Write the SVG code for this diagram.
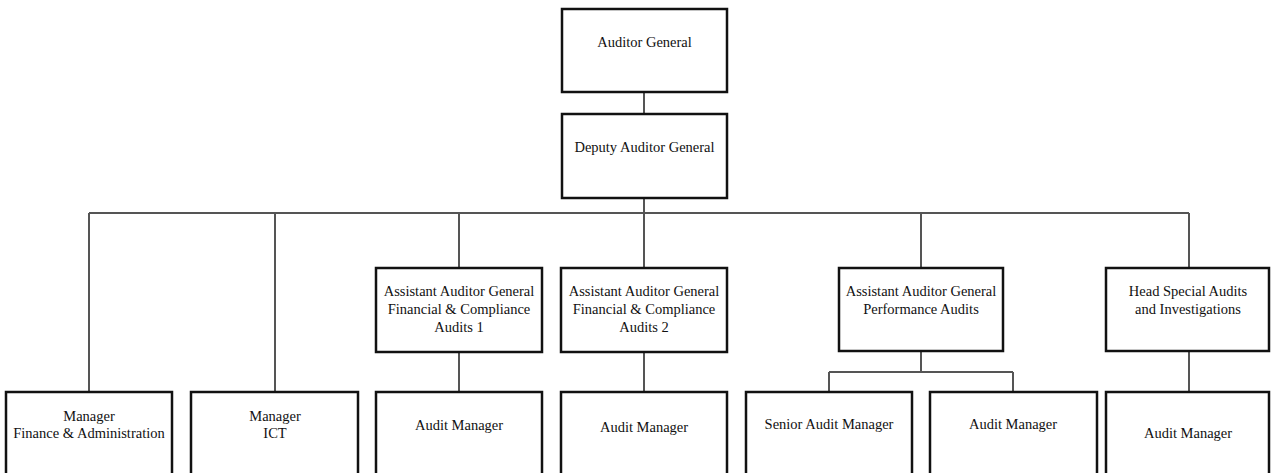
<svg xmlns="http://www.w3.org/2000/svg" width="1271" height="473" viewBox="0 0 1271 473">
<style>
.box{fill:#fff;stroke:#111;stroke-width:2.5}
.t{font-family:"Liberation Serif","Times New Roman",serif;font-size:14.5px;fill:#111;text-anchor:middle}
.c{fill:none;stroke:#555;stroke-width:2}
</style>
<rect width="1271" height="473" fill="#fff"/>
<g id="connectors">
<path class="c" d="M644 92V114M644 198V213M89 213H1189M89 213V392M275 213V392M459 213V268M644 213V268M921 213V268M1189 213V268"/>
<path class="c" d="M459 352V392M644 352V392M921 352V372M829 372H1013M829 372V392M1013 372V392M1189 352V392"/>
</g>
<g id="auditor-general"><rect class="box" x="562" y="9" width="165" height="83"/><text class="t" x="644.5" y="47">Auditor General</text></g>
<g id="deputy-auditor-general"><rect class="box" x="562" y="114" width="165" height="84"/><text class="t" x="644.5" y="152">Deputy Auditor General</text></g>
<g id="aag-fca1"><rect class="box" x="376" y="268" width="166" height="84"/><text class="t" x="459" y="296">Assistant Auditor General</text><text class="t" x="459" y="314">Financial &amp; Compliance</text><text class="t" x="459" y="332">Audits 1</text></g>
<g id="aag-fca2"><rect class="box" x="561" y="268" width="166" height="84"/><text class="t" x="644" y="296">Assistant Auditor General</text><text class="t" x="644" y="314">Financial &amp; Compliance</text><text class="t" x="644" y="332">Audits 2</text></g>
<g id="aag-pa"><rect class="box" x="839" y="268" width="164" height="83"/><text class="t" x="921" y="296">Assistant Auditor General</text><text class="t" x="921" y="314">Performance Audits</text></g>
<g id="head-special"><rect class="box" x="1106" y="268" width="163" height="83"/><text class="t" x="1188" y="296">Head Special Audits</text><text class="t" x="1188" y="314">and Investigations</text></g>
<g id="mgr-fa"><rect class="box" x="6" y="392" width="166" height="90"/><text class="t" x="89" y="421">Manager</text><text class="t" x="89" y="438">Finance &amp; Administration</text></g>
<g id="mgr-ict"><rect class="box" x="191" y="392" width="167" height="90"/><text class="t" x="275" y="421">Manager</text><text class="t" x="275" y="438">ICT</text></g>
<g id="am1"><rect class="box" x="376" y="392" width="166" height="90"/><text class="t" x="459" y="430">Audit Manager</text></g>
<g id="am2"><rect class="box" x="561" y="392" width="166" height="90"/><text class="t" x="644" y="432">Audit Manager</text></g>
<g id="sam"><rect class="box" x="746" y="392" width="166" height="90"/><text class="t" x="829" y="429">Senior Audit Manager</text></g>
<g id="am3"><rect class="box" x="930" y="392" width="167" height="90"/><text class="t" x="1013" y="429">Audit Manager</text></g>
<g id="am4"><rect class="box" x="1106" y="392" width="163" height="90"/><text class="t" x="1188" y="438">Audit Manager</text></g>
</svg>
